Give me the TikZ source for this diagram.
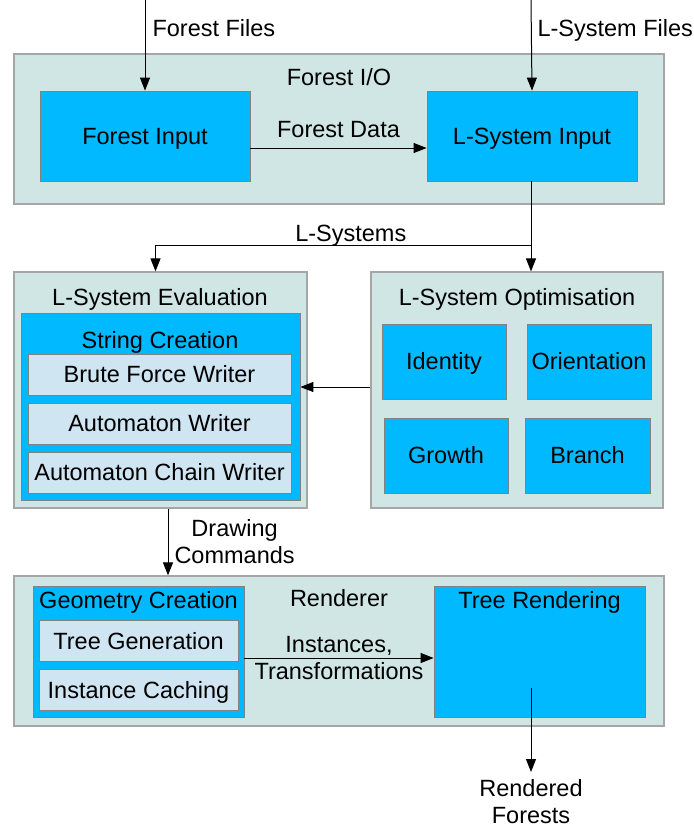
\documentclass[tikz,border=0pt]{standalone}
\usepackage{fontspec}
\setmainfont{Liberation Sans}
\usetikzlibrary{arrows.meta}
\definecolor{panefill}{RGB}{208,230,228}
\definecolor{paneline}{RGB}{166,166,166}
\definecolor{skyfill}{RGB}{0,185,255}
\definecolor{skyline}{RGB}{130,130,130}
\definecolor{palefill}{RGB}{207,229,242}

\begin{document}
\begin{tikzpicture}[x=1pt,y=-1pt,
  font=\fontsize{23.5}{27}\selectfont,
  pane/.style={draw=paneline,fill=panefill,line width=1.2pt,inner sep=0pt},
  oneline/.style={text height=21.3pt,text depth=5pt},
  skybox/.style={draw=skyline,fill=skyfill,line width=0.8pt,inner sep=0pt,oneline},
  palebox/.style={draw=skyline,fill=palefill,line width=0.8pt,inner sep=0pt,minimum height=41pt,oneline},
  title/.style={inner sep=0pt,oneline},
  txt/.style={inner sep=0pt,align=center},
  flow/.style={-{Triangle[length=13pt,width=10pt]},line width=1pt}]
\useasboundingbox (0,0) rectangle (694,828);

\node[pane,minimum width=650pt,minimum height=150pt] (io) at (339,129) {};
\node[pane,minimum width=293pt,minimum height=236pt] (eval) at (160.5,390) {};
\node[pane,minimum width=292pt,minimum height=236pt] (opt) at (517,390) {};
\node[pane,minimum width=650pt,minimum height=150pt] (rend) at (339,651) {};

\node[title] (iotitle) at (339,77) {Forest I/O};
\node[title] (evaltitle) at (160,297) {L-System Evaluation};
\node[title] (opttitle) at (517,297) {L-System Optimisation};
\node[title] (rendtitle) at (339,598) {Renderer};

\node[skybox,minimum width=210pt,minimum height=90pt] (fin) at (145,136) {Forest Input};
\node[skybox,minimum width=210pt,minimum height=90pt] (lsin) at (532,136) {L-System Input};

\node[skybox,minimum width=279pt,minimum height=187pt] (strc) at (160.5,406.5) {};
\node[title] (strctitle) at (160,340) {String Creation};
\node[palebox,minimum width=263pt] (brute) at (159.5,374.5) {Brute Force Writer};
\node[palebox,minimum width=263pt] (autom) at (159.5,423.5) {Automaton Writer};
\node[palebox,minimum width=263pt] (chain) at (159.5,472.5) {Automaton Chain Writer};

\node[skybox,minimum width=124pt,minimum height=75pt] (ident) at (444,361.5) {Identity};
\node[skybox,minimum width=124pt,minimum height=75pt] (orient) at (589,361.5) {Orientation};
\node[skybox,minimum width=124pt,minimum height=75pt] (growth) at (446,455.5) {Growth};
\node[skybox,minimum width=125pt,minimum height=75pt] (branch) at (587.5,455.5) {Branch};

\node[skybox,minimum width=211pt,minimum height=131pt] (geo) at (138.5,652) {};
\node[title] (geotitle) at (138.5,600) {Geometry Creation};
\node[palebox,minimum width=199pt] (treegen) at (138.5,641) {Tree Generation};
\node[palebox,minimum width=199pt] (cache) at (138.5,690) {Instance Caching};
\node[skybox,minimum width=211pt,minimum height=131pt] (tree) at (539.5,652) {};
\node[title] (treetitle) at (539.5,600) {Tree Rendering};

\coordinate (ffin) at (145,0);
\coordinate (lsfin) at (531,0);
\coordinate (split) at (531,245);
\coordinate (outstart) at (531,688);
\coordinate (outend) at (531,772);

\draw[flow] (ffin) -- (fin.north) node [at start, anchor=north west, txt, xshift=7pt, yshift=-19pt] (fflbl) {Forest Files};
\draw[flow] (lsfin) -- (lsin.north) node [at start, anchor=north west, txt, xshift=6pt, yshift=-19pt] (lsflbl) {L-System Files};
\draw[flow] (fin.east |- 0,148) -- (lsin.west |- 0,148) node [midway, above=10pt, txt] (fdlbl) {Forest Data};

\draw[line width=1pt] (lsin.south -| split) -- (split);
\draw[flow] (split) -| ([xshift=-5pt]eval.north) node [pos=0.24, above=-2pt, txt] (lslbl) {L-Systems};
\draw[flow] (split) -- (opt.north -| split);
\draw[flow] ([yshift=3pt]opt.west) -- ([yshift=3pt]opt.west -| strc.east);

\draw[flow] ([xshift=7.5pt]eval.south) -- ([xshift=7.5pt]eval.south |- rend.north) node [midway, right=6pt, txt] (dclbl) {Drawing\\Commands};
\draw[flow] ([yshift=-6pt]geo.east) -- ([yshift=-6pt]tree.west) node [midway, txt] (itlbl) {Instances,\\Transformations};
\draw[flow] (outstart) -- (outend) node [at end, below=7pt, txt] (rflbl) {Rendered\\Forests};
\end{tikzpicture}
\end{document}
